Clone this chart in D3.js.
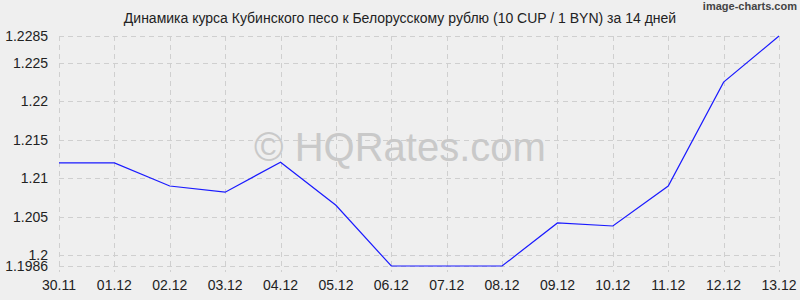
<!DOCTYPE html>
<meta charset="utf-8">
<style>
  body { margin: 0; background: #efefef; }
  text { font-family: "Liberation Sans", Arial, sans-serif; }
</style>
<body>
<script src="https://cdn.jsdelivr.net/npm/d3@7/dist/d3.min.js"></script>
<script>

    var dates = ["30.11","01.12","02.12","03.12","04.12","05.12","06.12","07.12","08.12","09.12","10.12","11.12","12.12","13.12"];
    var rates = [1.2120, 1.2120, 1.2090, 1.2082, 1.2121, 1.2065, 1.1986, 1.1986, 1.1986, 1.2042, 1.2038, 1.2090, 1.2225, 1.2285];
    var yTicks = [1.1986, 1.2, 1.205, 1.21, 1.215, 1.22, 1.225, 1.2285];

    var w = 800, h = 300;
    var plotL = 59, plotR = 779, plotT = 36, plotB = 266;

    var svg = d3.select("body")
            .append("svg")
            .attr("width", w)
            .attr("height", h);

    svg.append("rect").attr("width", w).attr("height", h).attr("fill", "#efefef");

    var x = d3.scalePoint().domain(dates).range([plotL, plotR]);
    var y = d3.scaleLinear().domain([1.1986, 1.2285]).range([plotB, plotT]);

    // grid
    svg.append("g").selectAll("line")
            .data(yTicks)
            .enter()
            .append("line")
            .attr("x1", plotL).attr("x2", plotR)
            .attr("y1", function(d) { return Math.round(y(d)) + 0.5; })
            .attr("y2", function(d) { return Math.round(y(d)) + 0.5; })
            .attr("stroke", "#cfcfcf")
            .attr("stroke-dasharray", "5,4");

    svg.append("g").selectAll("line")
            .data(dates)
            .enter()
            .append("line")
            .attr("x1", function(d) { return Math.round(x(d)) + 0.5; })
            .attr("x2", function(d) { return Math.round(x(d)) + 0.5; })
            .attr("y1", plotT).attr("y2", plotB + 6)
            .attr("stroke", "#cfcfcf")
            .attr("stroke-dasharray", "5,4");

    // watermark
    svg.append("text")
            .attr("x", 400).attr("y", 161)
            .attr("text-anchor", "middle")
            .attr("font-size", 40)
            .attr("fill", "#c9c9c9")
            .text("\u00a9 HQRates.com");

    // axes labels
    svg.append("g").selectAll("text")
            .data(yTicks)
            .enter()
            .append("text")
            .attr("x", 48)
            .attr("y", function(d) { return y(d) + 5; })
            .attr("text-anchor", "end")
            .attr("font-size", 14)
            .attr("fill", "#222")
            .text(function(d) { return d; });

    svg.append("g").selectAll("text")
            .data(dates)
            .enter()
            .append("text")
            .attr("x", function(d) { return x(d); })
            .attr("y", 290)
            .attr("text-anchor", "middle")
            .attr("font-size", 14)
            .attr("fill", "#222")
            .text(function(d) { return d; });

    // line
    var line = d3.line()
            .x(function(d, i) { return x(dates[i]); })
            .y(function(d) { return y(d); });

    svg.append("path")
            .datum(rates)
            .attr("d", line)
            .attr("fill", "none")
            .attr("stroke", "#1a1aff")
            .attr("stroke-width", 1.2);

    // title
    svg.append("text")
            .attr("x", 400).attr("y", 23)
            .attr("text-anchor", "middle")
            .attr("font-size", 14)
            .attr("fill", "#222")
            .text("Динамика курса Кубинского песо к Белорусскому рублю (10 CUP / 1 BYN) за 14 дней");

    svg.append("text")
            .attr("x", 797).attr("y", 10)
            .attr("text-anchor", "end")
            .attr("font-size", 11)
            .attr("font-weight", "bold")
            .attr("font-family", "'Liberation Sans Narrow', 'DejaVu Sans Condensed', sans-serif")
            .attr("fill", "#444")
            .text("image-charts.com");

</script>
